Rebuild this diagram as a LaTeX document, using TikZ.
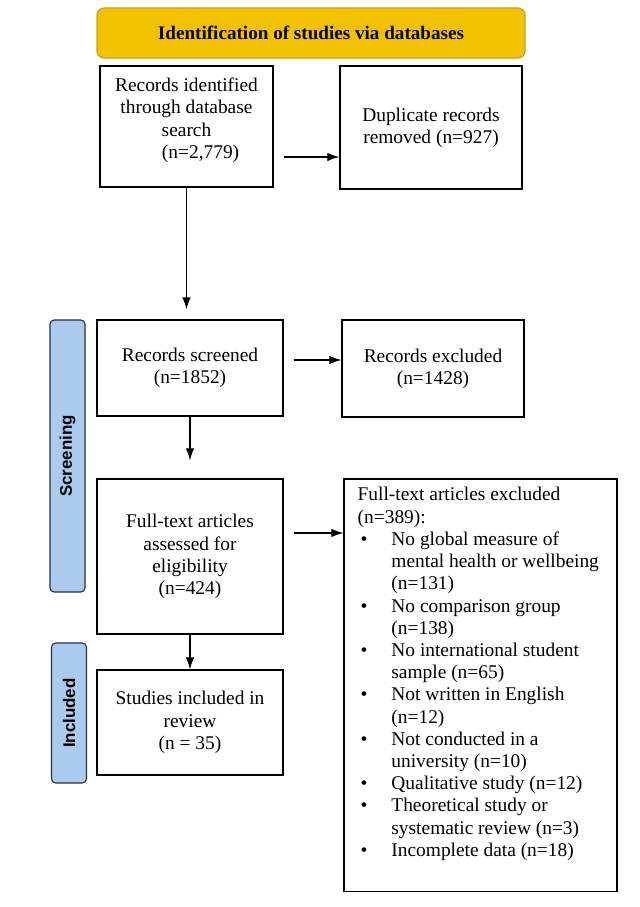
\documentclass[tikz,border=0pt]{standalone}
\usepackage{fontspec}
\setmainfont{Liberation Serif}
\setsansfont{Liberation Sans}
\usetikzlibrary{arrows.meta}

\definecolor{bannergold}{RGB}{242,194,0}
\definecolor{bannerline}{RGB}{205,160,20}
\definecolor{phaseblue}{RGB}{170,202,238}
\definecolor{phaseline}{RGB}{40,50,70}

\tikzset{
  box/.style={draw, line width=0.8pt, fill=white, align=center, inner sep=2pt,
    font=\fontsize{13.8}{15.8}\selectfont},
  phase/.style={draw=phaseline, line width=0.8pt, fill=phaseblue, rounded corners=3pt,
    rotate=90, minimum height=0.875cm, font=\sffamily\bfseries\fontsize{12}{14}\selectfont},
  arr/.style={-{Latex[length=3mm,width=2.1mm]}, line width=0.8pt}
}

\begin{document}
\begin{tikzpicture}[x=0.025cm, y=-0.025cm]
  \useasboundingbox (0,0) rectangle (639,907);

  \node[draw=bannerline, line width=0.8pt, fill=bannergold, rounded corners=5pt,
        minimum width=10.7cm, minimum height=1.25cm,
        font=\bfseries\fontsize{13.6}{16}\selectfont] (banner) at (311,33)
        {Identification of studies via databases};

  \node[box, minimum width=4.325cm, minimum height=3.025cm] (ident) at (186.5,126.5)
        {Records identified\\through database\\search\\\hspace*{20pt}(n=2,779)\\[-4pt]\mbox{}};
  \node[box, minimum width=4.55cm, minimum height=3.075cm] (dup) at (431,127.5)
        {Duplicate records\\removed (n=927)};

  \node[box, minimum width=4.65cm, minimum height=2.4cm] (screen) at (190,368)
        {Records screened\\(n=1852)};
  \node[box, minimum width=4.55cm, minimum height=2.425cm] (excl) at (433,368.5)
        {Records excluded\\(n=1428)};

  \node[box, minimum width=4.65cm, minimum height=3.875cm] (full) at (190,556.5)
        {Full-text articles\\assessed for\\eligibility\\(n=424)};
  \node[box, minimum width=6.825cm, minimum height=10.3cm] (fullex) at (480.5,685) {};
  \node[anchor=north west, inner sep=0pt, align=left, font=\fontsize{13.8}{15.8}\selectfont]
        (fullextxt) at ([xshift=0.35cm, yshift=-0.22cm]fullex.north west)
        {Full-text articles excluded\\
         (n=389):\\
         \makebox[24pt][l]{\hspace{2pt}\textbullet}No global measure of\\
         \hspace*{24pt}mental health or wellbeing\\
         \hspace*{24pt}(n=131)\\
         \makebox[24pt][l]{\hspace{2pt}\textbullet}No comparison group\\
         \hspace*{24pt}(n=138)\\
         \makebox[24pt][l]{\hspace{2pt}\textbullet}No international student\\
         \hspace*{24pt}sample (n=65)\\
         \makebox[24pt][l]{\hspace{2pt}\textbullet}Not written in English\\
         \hspace*{24pt}(n=12)\\
         \makebox[24pt][l]{\hspace{2pt}\textbullet}Not conducted in a\\
         \hspace*{24pt}university (n=10)\\
         \makebox[24pt][l]{\hspace{2pt}\textbullet}Qualitative study (n=12)\\
         \makebox[24pt][l]{\hspace{2pt}\textbullet}Theoretical study or\\
         \hspace*{24pt}systematic review (n=3)\\
         \makebox[24pt][l]{\hspace{2pt}\textbullet}Incomplete data (n=18)};

  \node[box, minimum width=4.65cm, minimum height=2.625cm] (incl) at (190,722.5)
        {Studies included in\\review\\(n = 35)};

  \node[phase, minimum width=6.8cm] (screening) at (67.5,456) {Screening};
  \node[phase, minimum width=3.5cm] (included) at (69,713) {Included};

  \draw[arr, shorten <=0.25cm] (ident.east |- 0,157) -- (dup.west |- 0,157);
  \draw[arr, shorten >=0.25cm] (ident.south) -- (screen.north -| ident.south);
  \draw[arr, shorten <=0.25cm] (screen.east |- 0,360) -- (excl.west |- 0,360);
  \draw[arr, shorten >=0.45cm] (screen.south) -- (full.north);
  \draw[arr, shorten <=0.25cm] (full.east |- 0,533) -- (fullex.west |- 0,533);
  \draw[arr] (full.south) -- (incl.north);
\end{tikzpicture}
\end{document}
